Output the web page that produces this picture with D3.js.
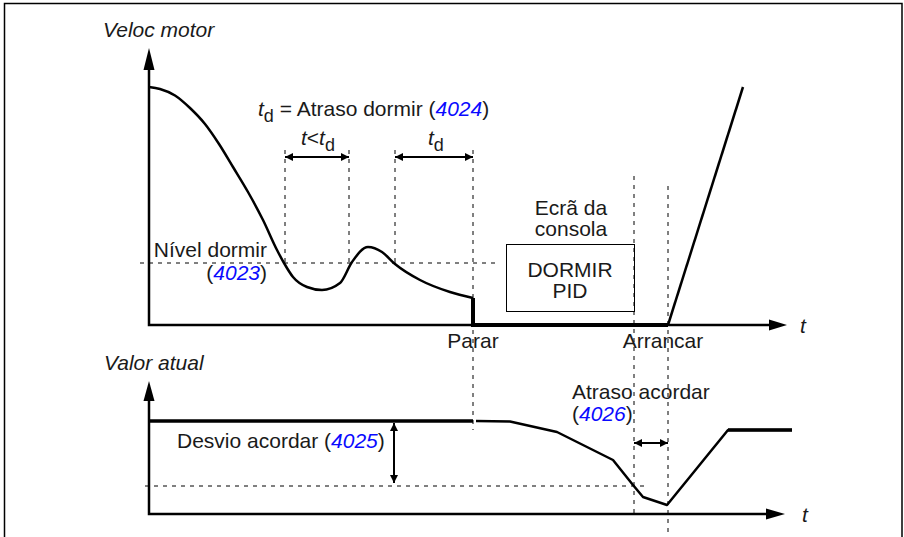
<!DOCTYPE html>
<html>
<head>
<meta charset="utf-8">
<script src="https://cdn.jsdelivr.net/npm/d3@7"></script>
<style>
  html, body { margin: 0; padding: 0; background: #fff; }
  svg text { font-family: "Liberation Sans", Arial, sans-serif; font-size: 21px; fill: #1a1a1a; }
  .num { fill: #0a0aff; font-style: italic; }
</style>
</head>
<body>
<svg id="chart" width="904" height="537"></svg>
<script>
// motor speed (upper plot); time and value in arbitrary units
const speedTime  = [0, 1.1, 2.6, 4.1, 5.6, 7.0, 8.4, 9.9, 11.4, 12.8, 13.5, 14.4, 15.8, 17.3, 19.1, 20.3, 21.9, 23.3, 24.6, 27.1, 30.1, 32.4];
const speedValue = [23.8, 23.6, 22.95, 21.7, 20.1, 18.1, 15.8, 13.3, 10.5, 7.5, 6.2, 4.8, 3.8, 3.5, 4.2, 6.3, 7.8, 7.3, 6.1, 4.5, 3.3, 2.7];
const sleepTime  = [32.4, 32.4, 51.9];
const sleepValue = [2.7, 0, 0];
const restartTime  = [51.9, 59.4];
const restartValue = [0, 23.8];

// actual process value (lower plot)
const actualTime  = [0, 32.4];
const actualValue = [9.3, 9.3];
const dropTime  = [32.7, 36.1, 40.8, 46.4, 48.4, 49.4, 51.8, 57.9, 64.3];
const dropValue = [9.3, 9.25, 8.2, 5.4, 2.9, 1.7, 0.9, 8.4, 8.4];

// levels and event times
const sleepLevel = 6.2;
const wakeLevel = 2.8;
const delayMarks = [13.6, 20.0, 24.6];
const stopTime = 32.4;
const wakeDelayStart = 48.5;
const startTime = 51.9;

// parameter numbers
const parSleepLevel = '4023', parSleepDelay = '4024', parWakeDev = '4025', parWakeDelay = '4026';

const svg = d3.select('#chart');
const x = d3.scaleLinear().domain([0, 64]).range([149, 789]);
const yTop = d3.scaleLinear().domain([0, 28]).range([325, 45]);
const yBot = d3.scaleLinear().domain([0, 13]).range([514, 384]);

const defs = svg.append('defs');
defs.append('marker').attr('id', 'head')
    .attr('markerUnits', 'userSpaceOnUse')
    .attr('markerWidth', 9).attr('markerHeight', 9)
    .attr('refX', 8).attr('refY', 4)
    .attr('orient', 'auto-start-reverse')
  .append('path').attr('d', 'M0,0 L8,4 L0,8 Z').attr('fill', '#000');

// frame
svg.append('path').attr('d', 'M4.5,537 V3.5 H902 V537')
    .attr('fill', 'none').attr('stroke', '#000').attr('stroke-width', 1.5);

function dashed(x1, y1, x2, y2) {
  svg.append('line').attr('x1', x1).attr('y1', y1).attr('x2', x2).attr('y2', y2)
      .attr('stroke', '#000').attr('stroke-width', 1).attr('stroke-dasharray', '4,5');
}
function dbl(x1, y1, x2, y2) {
  svg.append('line').attr('x1', x1).attr('y1', y1).attr('x2', x2).attr('y2', y2)
      .attr('stroke', '#000').attr('stroke-width', 2)
      .attr('marker-start', 'url(#head)').attr('marker-end', 'url(#head)');
}
function axes(yS, vTop, vTip, tEnd, tTip) {
  const x0 = x(0), y0 = yS(0);
  svg.append('path').attr('d', `M${x0},${yS(vTop)} V${y0} H${x(tEnd)}`)
      .attr('fill', 'none').attr('stroke', '#000').attr('stroke-width', 2.5);
  svg.append('path').attr('d', `M${x0 - 5.5},${yS(vTop)} L${x0},${yS(vTip)} L${x0 + 5.5},${yS(vTop)} Z`);
  svg.append('path').attr('d', `M${x(tEnd)},${y0 - 5.5} L${x(tTip)},${y0} L${x(tEnd)},${y0 + 5.5} Z`);
}

// dashed guides
dashed(140, yTop(sleepLevel), 496, yTop(sleepLevel));
dashed(145, yBot(wakeLevel), 647, yBot(wakeLevel));
delayMarks.forEach(t => dashed(x(t), 150, x(t), yTop(sleepLevel)));
dashed(x(stopTime), 150, x(stopTime), 430);
dashed(x(wakeDelayStart), 176, x(wakeDelayStart), 514);
dashed(x(startTime), 186, x(startTime), 537);

// axes
axes(yTop, 25.5, 27.7, 62, 63.8);
axes(yBot, 11.3, 13.3, 61.7, 63.6);

const zip = (a, b) => a.map((d, i) => [d, b[i]]);
const lineTop = d3.line().x(d => x(d[0])).y(d => yTop(d[1]));
const lineBot = d3.line().x(d => x(d[0])).y(d => yBot(d[1]));

svg.append('path').attr('d', lineTop.curve(d3.curveMonotoneX)(zip(speedTime, speedValue)))
    .attr('fill', 'none').attr('stroke', '#000').attr('stroke-width', 2.5);
lineTop.curve(d3.curveLinear);
svg.append('path').attr('d', lineTop(zip(sleepTime, sleepValue)))
    .attr('fill', 'none').attr('stroke', '#000').attr('stroke-width', 4);
svg.append('path').attr('d', lineTop(zip(restartTime, restartValue)))
    .attr('fill', 'none').attr('stroke', '#000').attr('stroke-width', 2.5);

svg.append('path').attr('d', lineBot(zip(actualTime, actualValue)))
    .attr('fill', 'none').attr('stroke', '#000').attr('stroke-width', 3.5);
svg.append('path').attr('d', lineBot(zip(dropTime, dropValue)))
    .attr('fill', 'none').attr('stroke', '#000').attr('stroke-width', 2.5)
    .attr('stroke-linejoin', 'round');
svg.append('path').attr('d', lineBot(zip(dropTime.slice(-2), dropValue.slice(-2))))
    .attr('fill', 'none').attr('stroke', '#000').attr('stroke-width', 3.5);

// double arrows
dbl(x(delayMarks[0]), 157, x(delayMarks[1]), 157);
dbl(x(delayMarks[2]), 157, x(stopTime), 157);
dbl(394, yBot(actualValue[0]) + 2, 394, yBot(wakeLevel) - 3);
dbl(x(wakeDelayStart), 443, x(startTime), 443);

// sleep box
svg.append('rect').attr('x', 506.5).attr('y', 244.5).attr('width', 128).attr('height', 67)
    .attr('fill', 'none').attr('stroke', '#000').attr('stroke-width', 1);

// texts
function txt(xp, yp, anchor) {
  return svg.append('text').attr('x', xp).attr('y', yp).attr('text-anchor', anchor || 'start');
}
function td(sel) {
  sel.append('tspan').attr('font-style', 'italic').text('t');
  sel.append('tspan').attr('dy', 6).attr('font-size', 18).text('d');
  return sel;
}
txt(103, 37).attr('font-style', 'italic').text('Veloc motor');
txt(104, 370).attr('font-style', 'italic').text('Valor atual');
txt(800, 333).attr('font-style', 'italic').text('t');
txt(802, 522).attr('font-style', 'italic').text('t');

const t1 = td(txt(258, 116));
t1.append('tspan').attr('dy', -6).text(' = Atraso dormir (');
t1.append('tspan').attr('class', 'num').text(parSleepDelay);
t1.append('tspan').text(')');

const t2 = txt(301, 145);
t2.append('tspan').attr('font-style', 'italic').text('t');
t2.append('tspan').text('<');
td(t2);
td(txt(428, 145));

txt(267, 257, 'end').text('Nível dormir');
const t3 = txt(267, 280, 'end');
t3.append('tspan').text('(');
t3.append('tspan').attr('class', 'num').text(parSleepLevel);
t3.append('tspan').text(')');

txt(571, 215, 'middle').text('Ecrã da');
txt(571, 236, 'middle').text('consola');
txt(570, 277, 'middle').text('DORMIR');
txt(570, 298, 'middle').text('PID');

txt(x(stopTime), 348, 'middle').text('Parar');
txt(x(startTime) - 5, 348, 'middle').text('Arrancar');

const t4 = txt(177, 448);
t4.append('tspan').text('Desvio acordar (');
t4.append('tspan').attr('class', 'num').text(parWakeDev);
t4.append('tspan').text(')');

txt(572, 399).text('Atraso acordar');
const t5 = txt(572, 421);
t5.append('tspan').text('(');
t5.append('tspan').attr('class', 'num').text(parWakeDelay);
t5.append('tspan').text(')');
</script>
</body>
</html>
